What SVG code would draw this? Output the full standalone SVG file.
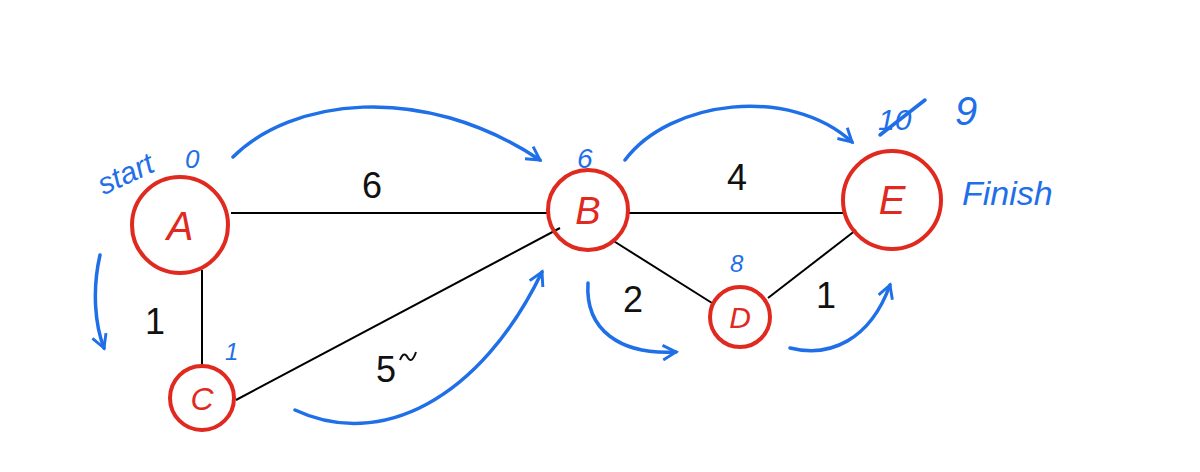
<svg xmlns="http://www.w3.org/2000/svg" width="1200" height="472" viewBox="0 0 1200 472">
<style>
.n{fill:none;stroke:#e0291f;stroke-width:4}
.nt{fill:#e0291f;font-family:"Liberation Sans",sans-serif;font-style:italic;text-anchor:middle}
.e{stroke:#000;stroke-width:2}
.el{fill:#111;font-family:"Liberation Sans",sans-serif;font-size:36px;text-anchor:middle}
.b{fill:none;stroke:#1f6fe8;stroke-width:3.5;stroke-linecap:round}
.bt{fill:#1f6fe8;font-family:"Liberation Sans",sans-serif;font-style:italic}
</style>
<defs><marker id="ah" viewBox="0 0 12 12" refX="10" refY="6" markerWidth="5" markerHeight="5" orient="auto"><path d="M1,1 L10,6 L1,11" fill="none" stroke="#1f6fe8" stroke-width="2"/></marker></defs>
<rect width="1200" height="472" fill="#fff"/>
<g id="edges">
<line class="e" x1="231" y1="213" x2="548" y2="213"/>
<line class="e" x1="628" y1="213" x2="843" y2="213"/>
<line class="e" x1="202" y1="270" x2="202" y2="368"/>
<line class="e" x1="236" y1="400" x2="560" y2="228"/>
<line class="e" x1="612" y1="240" x2="712" y2="303"/>
<line class="e" x1="768" y1="298" x2="856" y2="230"/>
<text class="el" x="372" y="198">6</text>
<text class="el" x="737" y="190">4</text>
<text class="el" x="155" y="334">1</text>
<text class="el" x="386" y="382">5</text>
<path d="M400,360 q4,-10 8,-2 q4,6 8,-6" fill="none" stroke="#111" stroke-width="2"/>
<text class="el" x="633" y="312">2</text>
<text class="el" x="826" y="308">1</text>
<path class="b" marker-end="url(#ah)" d="M233,157 C290,100 420,80 540,160"/>
<path class="b" marker-end="url(#ah)" d="M625,160 C670,100 790,85 852,142"/>
<path class="b" marker-end="url(#ah)" d="M100,255 C92,290 95,325 104,348"/>
<path class="b" marker-end="url(#ah)" d="M295,410 C380,450 480,400 542,272"/>
<path class="b" marker-end="url(#ah)" d="M588,283 C585,330 620,355 676,352"/>
<path class="b" marker-end="url(#ah)" d="M790,348 C830,358 870,340 890,285"/>
</g>
<g id="A"><circle class="n" cx="180" cy="225" r="48"/><text class="nt" x="180" y="240" font-size="40">A</text></g>
<g id="B"><circle class="n" cx="588" cy="210" r="40"/><text class="nt" x="588" y="224" font-size="38">B</text></g>
<g id="E"><circle class="n" cx="892" cy="200" r="49"/><text class="nt" x="892" y="214" font-size="40">E</text></g>
<g id="D"><circle class="n" cx="740" cy="317" r="30"/><text class="nt" x="740" y="328" font-size="30">D</text></g>
<g id="C"><circle class="n" cx="202" cy="398" r="32"/><text class="nt" x="202" y="410" font-size="32">C</text></g>
<g id="labels">
<text class="bt" x="90" y="185" font-size="30" transform="rotate(-25 120 160)">start</text>
<text class="bt" x="185" y="168" font-size="26">0</text>
<text class="bt" x="577" y="168" font-size="28">6</text>
<text class="bt" x="730" y="272" font-size="24">8</text>
<text class="bt" x="225" y="360" font-size="24">1</text>
<text class="bt" x="878" y="130" font-size="30">10</text>
<path class="b" d="M880,135 L925,100"/>
<text class="bt" x="955" y="125" font-size="40">9</text>
<text class="bt" x="962" y="205" font-size="34">Finish</text>
</g>
</svg>
